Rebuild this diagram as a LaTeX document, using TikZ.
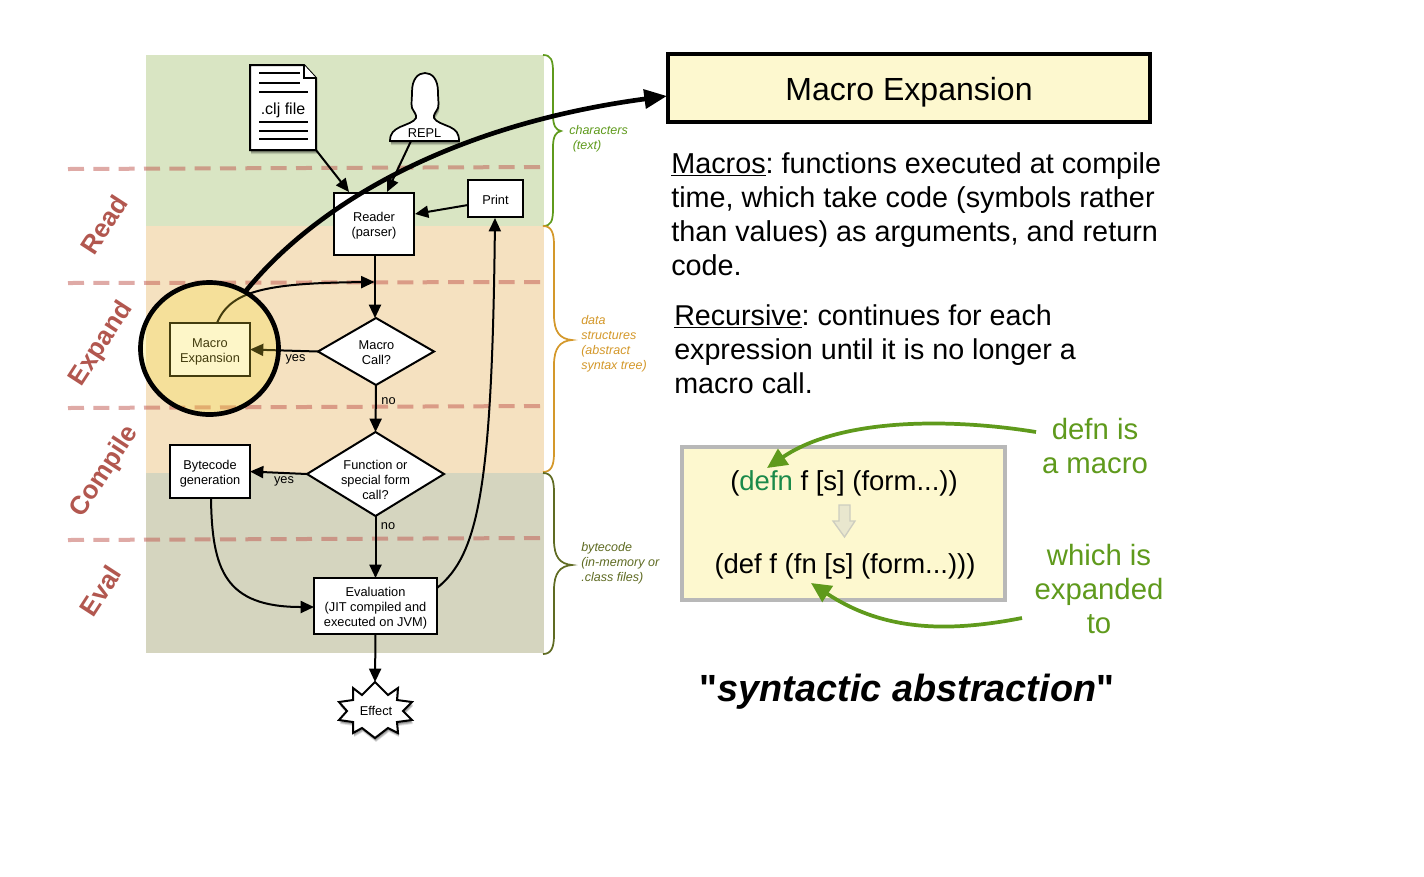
\documentclass[tikz,border=0pt]{standalone}
\usepackage{fontspec}
\setmainfont{Liberation Sans}
\newfontfamily\qfont{Liberation Sans}[Ligatures=TeXOff]
\usetikzlibrary{arrows.meta,shapes.geometric,calc}
\definecolor{bandgreen}{HTML}{D9E5C3}
\definecolor{bandorange}{HTML}{F5E1C0}
\definecolor{bandgrey}{HTML}{D5D5BF}
\definecolor{dashred}{HTML}{C0564E}
\definecolor{phase}{HTML}{B2574F}
\definecolor{glow}{HTML}{F8DE34}
\definecolor{paper}{HTML}{FDF8CF}
\definecolor{grn}{HTML}{5F9A1C}
\definecolor{org}{HTML}{D4982A}
\definecolor{olv}{HTML}{5F6B22}
\definecolor{codegrn}{HTML}{1A8A4A}
\definecolor{hollow}{HTML}{E9E7CE}
\definecolor{hollowline}{HTML}{CDCDC0}
\newcommand{\sz}[2]{\fontsize{#1}{#2}\selectfont\frenchspacing}
\newcommand{\ShadowShape}[1]{\fill[black,opacity=.12,shift={(1,4)}] #1; \fill[black,opacity=.18,shift={(1,3)}] #1; \fill[black,opacity=.2,shift={(.5,2)}] #1;}
\tikzset{
 x=.75pt,y=-.75pt,
 flow/.style={line width=1.5pt,-{Triangle[length=10pt,width=9pt]}},
 bigflow/.style={line width=3.5pt,-{Triangle[length=17pt,width=14pt]}},
 greenflow/.style={grn,line width=2.8pt,-{Triangle[length=15pt,width=14pt]}},
 boxn/.style={draw,line width=1.5pt,fill=white,inner sep=0pt,outer sep=0pt},
 diam/.style={diamond,draw,line width=1.5pt,fill=white,inner sep=0pt,outer sep=0pt},
 small/.style={font=\sz{9.6}{11.25},align=center,inner sep=0pt},
 side/.style={font=\sz{9.4}{11.25}\itshape,align=left,inner sep=0pt,anchor=west},
 phasel/.style={font=\sz{19.5}{20}\bfseries,text=phase,inner sep=0pt},
 body/.style={font=\sz{21.6}{25.5},align=left,anchor=north west,inner sep=0pt},
 greent/.style={font=\sz{22}{25.5},text=grn,align=center,inner sep=0pt},
 band/.style={dashred,opacity=.5,line width=3pt,dash pattern=on 12pt off 7pt},
}
\begin{document}
\begin{tikzpicture}
\useasboundingbox (0,0) rectangle (1424,876);
\fill[white] (0,0) rectangle (1424,876);
% bands
\fill[bandgreen] (146,55) rectangle (544,226);
\fill[bandorange] (146,226) rectangle (544,473);
\fill[bandgrey] (146,473) rectangle (544,653);
% dashed phase lines
\coordinate (d1a) at (68,169); \coordinate (d1b) at (540,167);
\coordinate (d2a) at (68,283); \coordinate (d2b) at (540,282);
\coordinate (d3a) at (68,408); \coordinate (d3b) at (540,406);
\coordinate (d4a) at (68,540); \coordinate (d4b) at (540,538);
\draw[band] (d1a) -- (d1b);
\draw[band] (d2a) -- (d2b);
\draw[band] (d3a) -- (d3b);
\draw[band] (d4a) -- (d4b);
% phase names
\node[phasel,rotate=57] (read) at (104,225) {Read};
\node[phasel,rotate=57] (expand) at (101.5,344) {Expand};
\node[phasel,rotate=57] (compile) at (105,472) {Compile};
\node[phasel,rotate=57] (eval) at (100.5,591) {Eval};
% braces
\draw[grn,line width=1.3pt] (543,55) .. controls (551,55) and (553,60) .. (553,72) -- (553,115) .. controls (553,126) and (556,130) .. (561,131) .. controls (556,132) and (553,136) .. (553,147) -- (553,209) .. controls (553,221) and (551,226) .. (543,226);
\draw[org,line width=1.3pt] (543,226) .. controls (551,226) and (554,232) .. (554,245) -- (554,315) .. controls (554,332) and (560,339) .. (572,340) .. controls (560,341) and (554,348) .. (554,365) -- (554,453) .. controls (554,466) and (551,472) .. (543,472);
\draw[olv,line width=1.3pt] (543,473) .. controls (551,473) and (554,479) .. (554,492) -- (554,540) .. controls (554,557) and (560,564) .. (572,565) .. controls (560,566) and (554,573) .. (554,590) -- (554,635) .. controls (554,648) and (551,654) .. (543,654);
\node[side,text=grn] (t1) at (569,138.5) {characters\\\ (text)};
\node[side,text=org] (t2) at (581,343.5) {data\\structures\\(abstract\\syntax tree)};
\node[side,text=olv] (t3) at (581,563) {bytecode\\(in-memory or\\.class files)};
% file icon
\def\docpath{(250,65) -- (304,65) -- (316,78) -- (316,150) -- (250,150) -- cycle}
\ShadowShape{\docpath}
\draw[line width=1.5pt,fill=white] \docpath;
\draw[line width=1pt,fill=white] (304,65) -- (304,78) -- (316,78);
\foreach \yy/\xe in {73/300,83/300,92/308,122/308,131/308,139/308}
  \draw[line width=1.5pt] (259,\yy) -- (\xe,\yy);
\node[font=\sz{12}{14},inner sep=0pt] (clj) at (283,110) {.clj file};
\coordinate (cljout) at (316,150);
% person icon
\def\manpath{(390,141) .. controls (390,133) and (394,130) .. (400,127) .. controls (407,124) and (414,122) .. (416,118) .. controls (417,115) and (414,112) .. (412,108) .. controls (411,103) and (412,100) .. (412,92) .. controls (412,79) and (418,73) .. (425,73) .. controls (432,73) and (438,79) .. (438,92) .. controls (438,100) and (439,103) .. (438,108) .. controls (436,112) and (433,115) .. (434,118) .. controls (436,122) and (443,124) .. (450,127) .. controls (456,130) and (459,133) .. (459,141) -- cycle}
\ShadowShape{\manpath}
\draw[line width=1.3pt,fill=white] \manpath;
\node[font=\sz{9.6}{11.25},inner sep=0pt] (repl) at (424.5,133) {REPL};
\coordinate (replout) at (411,141);
% boxes
\node[boxn,minimum width=60pt,minimum height=46.5pt] (reader) at (374,224) {};
\node[small] (readert) at (374,226) {Reader\\(parser)};
\node[boxn,minimum width=41.25pt,minimum height=27.75pt] (print) at (495.5,198.5) {};
\node[small] (printt) at (495.5,199.5) {Print};
\node[boxn,minimum width=60pt,minimum height=39.75pt] (me) at (210,349.5) {};
\node[small] (met) at (210,351.5) {Macro\\Expansion};
\node[boxn,minimum width=60pt,minimum height=39.75pt] (bc) at (210,471.5) {};
\node[small] (bct) at (210,473.5) {Bytecode\\generation};
\node[boxn,minimum width=92.25pt,minimum height=42pt] (ev) at (375.5,606) {};
\node[small] (evt) at (375.5,608) {Evaluation\\(JIT compiled and\\executed on JVM)};
\node[diam,minimum width=87pt,minimum height=50.25pt] (mc) at (376,351.5) {};
\node[small] (mct) at (376.5,353) {Macro\\Call?};
\node[diam,minimum width=102.75pt,minimum height=63pt] (fn) at (375.5,474) {};
\node[small] (fnt) at (375.5,479.5) {Function or\\special form\\call?};
% effect star
\def\starpath{(375,682) -- (388,695) -- (398,688) -- (397,700) -- (412,702) -- (403,711) -- (412,720) -- (397,722) -- (398,733) -- (388,728) -- (375,738) -- (362,728) -- (353,733) -- (353,722) -- (339,720) -- (347,711) -- (339,702) -- (353,700) -- (353,688) -- (362,695) -- cycle}
\ShadowShape{\starpath}
\draw[line width=1.5pt,fill=white,line join=miter] \starpath;
\node[small] (effect) at (376,710.5) {Effect};
\coordinate (effin) at (375,682);
% connectors
\coordinate (rdA) at (349,192);
\coordinate (rdB) at (387,192);
\coordinate (rdE) at (415,214);
\coordinate (prW) at (468,205);
\coordinate (prS) at (495,218);
\coordinate (evE) at (437,588);
\coordinate (evW) at (314,607);
\coordinate (bcS) at (211,498);
\coordinate (rdS) at (375,255);
\coordinate (mcN) at (375,318);
\coordinate (jn) at (374.5,282);
\coordinate (meN) at (217,323);
\draw[flow] (cljout) -- (rdA);
\draw[flow] (replout) -- (rdB);
\draw[flow] (prW) -- (rdE);
\draw[flow] (rdS) -- (mcN);
\draw[flow] (mc.south) -- (fn.north);
\draw[flow] (fn.south) -- (ev.north);
\draw[flow] (ev.south) -- (effin);
\draw[flow] (mc.west) -- (me.east);
\draw[flow] (fn.west) -- (bc.east);
\draw[flow] (bcS) .. controls (212,570) and (225,607) .. (evW);
\draw[flow] (evE) .. controls (478,555) and (492,490) .. (prS);
\draw[flow] (meN) .. controls (230,292) and (262,283) .. (jn);
\node[small] (yes1) at (295.5,359) {yes};
\node[small] (no1) at (388.5,401) {no};
\node[small] (yes2) at (284,481.5) {yes};
\node[small] (no2) at (388,526) {no};
% highlight circle
\node[ellipse,draw,line width=3.5pt,fill=glow,fill opacity=.27,draw opacity=1,minimum width=103.5pt,minimum height=99pt,inner sep=0pt,outer sep=0pt] (spot) at (209.5,348.5) {};
% header
\node[draw,line width=3pt,fill=paper,minimum width=362pt,minimum height=51pt,inner sep=0pt,outer sep=0pt] (head) at (909,88) {};
\node[font=\sz{24}{28},inner sep=0pt] (headt) at (909,92) {Macro Expansion};
\coordinate (spotout) at (245,292);
\coordinate (headin) at (667,96);
\draw[bigflow] (spotout) .. controls (315,205) and (450,125) .. (headin);
% paragraphs
\node[body] (p1) at (671,152) {\underline{Macros}: functions executed at compile\\time, which take code (symbols rather\\than values) as arguments, and return\\code.};
\node[body,font=\sz{21.5}{25.5}] (p2) at (674,304) {\underline{Recursive}: continues for each\\expression until it is no longer a\\macro call.};
% code box
\draw[draw=black!28,line width=3pt,fill=paper] (682,447) rectangle (1005,600);
\node[font=\sz{20.6}{25},inner sep=0pt] (c1) at (844,483) {(\textcolor{codegrn}{defn} f [s] (form...))};
\node[font=\sz{20.6}{25},inner sep=0pt] (c2) at (845,566) {(def f (fn [s] (form...)))};
\draw[draw=hollowline,line width=1pt,fill=hollow] (839,505) -- (850,505) -- (850,521) -- (855,521) -- (844.5,537) -- (833,521) -- (839,521) -- cycle;
\node[greent] (g1) at (1095,446) {defn is\\a macro};
\node[greent] (g2) at (1099,589) {which is\\expanded\\to};
\coordinate (g1out) at (1036,432);
\coordinate (g1in) at (767,468);
\coordinate (g2out) at (1022,618);
\coordinate (g2in) at (811,583);
\draw[greenflow] (g1out) .. controls (950,418) and (840,418) .. (g1in);
\draw[greenflow] (g2out) .. controls (950,632) and (885,632) .. (g2in);
\node[font=\sz{28.4}{32}\bfseries,inner sep=0pt] (quote) at (907,692) {{\qfont\bfseries\char34}\textit{syntactic abstraction}{\qfont\bfseries\char34}};
\end{tikzpicture}
\end{document}
